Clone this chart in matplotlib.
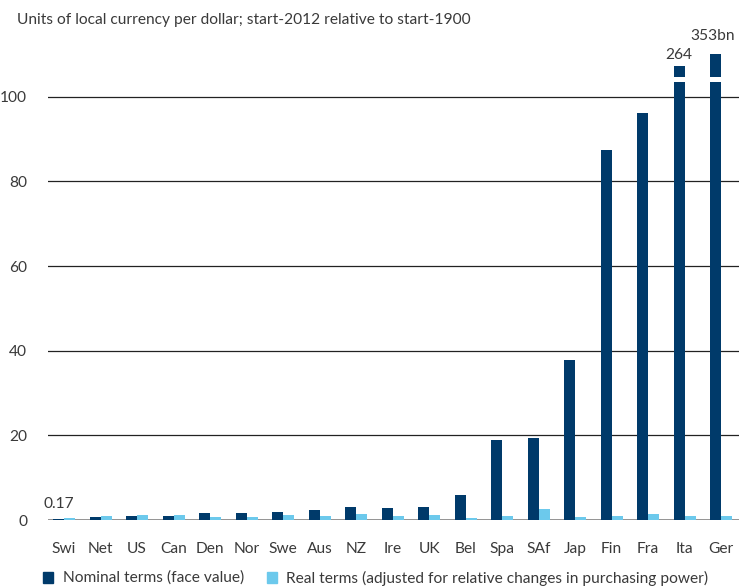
import numpy as np
import matplotlib.pyplot as plt
from matplotlib.patches import Rectangle

plt.rcParams['font.family'] = ['Lato', 'DejaVu Sans']

paises = ["Swi", "Net", "US", "Can", "Den", "Nor", "Swe", "Aus", "NZ", "Ire",
          "UK", "Bel", "Spa", "SAf", "Jap", "Fin", "Fra", "Ita", "Ger"]
nominal = [0.17, 0.7, 1.0, 1.0, 1.6, 1.6, 1.8, 2.3, 3.0, 2.8,
           3.1, 5.9, 18.9, 19.4, 37.7, 87.4, 96.2, 264, 353e9]
real = [0.4, 0.9, 1.2, 1.2, 0.7, 0.7, 1.2, 1.0, 1.5, 1.0,
        1.2, 0.4, 1.0, 2.5, 0.6, 1.0, 1.3, 1.0, 1.0]
etiquetas_sup = {"Swi": "0.17", "Ita": "264", "Ger": "353bn"}
leyenda = ["Nominal terms (face value)",
           "Real terms (adjusted for relative changes in purchasing power)"]
titulo = "Units of local currency per dollar; start-2012 relative to start-1900"

# barras que se cortan (valores fuera de escala)
tope = {"Ita": 107.3, "Ger": 110.0}

azul = "#003a6a"
celeste = "#6cc9ec"
gris_texto = "#3a3a3a"

W, H = 739, 587
fig = plt.figure(figsize=(W / 100, H / 100), dpi=100)

# ajustar tamaño de letra para que el titulo mida ~453 px
t = fig.text(17 / W, 1 - 20 / H, titulo, fontsize=11, color=gris_texto, va="center")
fig.canvas.draw()
ancho_px = t.get_window_extent().width
fs = 11 * 453 / ancho_px
t.set_fontsize(fs)

ax = fig.add_axes([48 / W, 67 / H, (W - 48) / W, (520 - 46) / H])

x = np.arange(len(paises))
ancho = 0.3
alturas = [tope.get(p, v) for p, v in zip(paises, nominal)]
ax.bar(x - ancho / 2, alturas, ancho, color=azul, zorder=3)
ax.bar(x + ancho / 2, real, ancho, color=celeste, zorder=3)

# marca de corte
for p in tope:
    i = paises.index(p)
    ax.bar(i - ancho / 2, 1.0, ancho * 1.3, bottom=103.6, color="white", zorder=4)

# posicion de las etiquetas (desplazamiento en x, separacion en y)
ajuste = {"Swi": (0, 2.0), "Ita": (0, 0.9), "Ger": (-0.09, 2.7)}
for p, txt in etiquetas_sup.items():
    i = paises.index(p)
    h = alturas[i]
    dx, dy = ajuste[p]
    ax.text(i - ancho / 2 + dx, h + dy, txt, ha="center", va="bottom", fontsize=fs,
            color=gris_texto, clip_on=False)

ax.set_xlim(-0.44, 18.49)
ax.set_ylim(0, 112)
ax.set_yticks([0, 20, 40, 60, 80, 100])
ax.set_xticks(x)
ax.set_xticklabels(paises)
ax.tick_params(length=0, labelsize=fs, colors=gris_texto, pad=16)
ax.tick_params(axis="y", pad=15)
for s in ax.spines.values():
    s.set_visible(False)
for v in [20, 40, 60, 80, 100]:
    ax.axhline(v, color="#222222", lw=0.9, zorder=1)
ax.axhline(0, color="#8a8a8a", lw=2, zorder=2)

# leyenda manual (en pixeles de la figura)
for (x0, xt), color, txt in zip([(43, 63), (267, 286)], [azul, celeste], leyenda):
    fig.patches.append(Rectangle((x0 / W, 1 - 583 / H), 10 / W, 11 / H,
                                 transform=fig.transFigure, color=color))
    fig.text(xt / W, 1 - 578 / H, txt, fontsize=fs, color=gris_texto, va="center")

fig.savefig("out.png", dpi=100)
